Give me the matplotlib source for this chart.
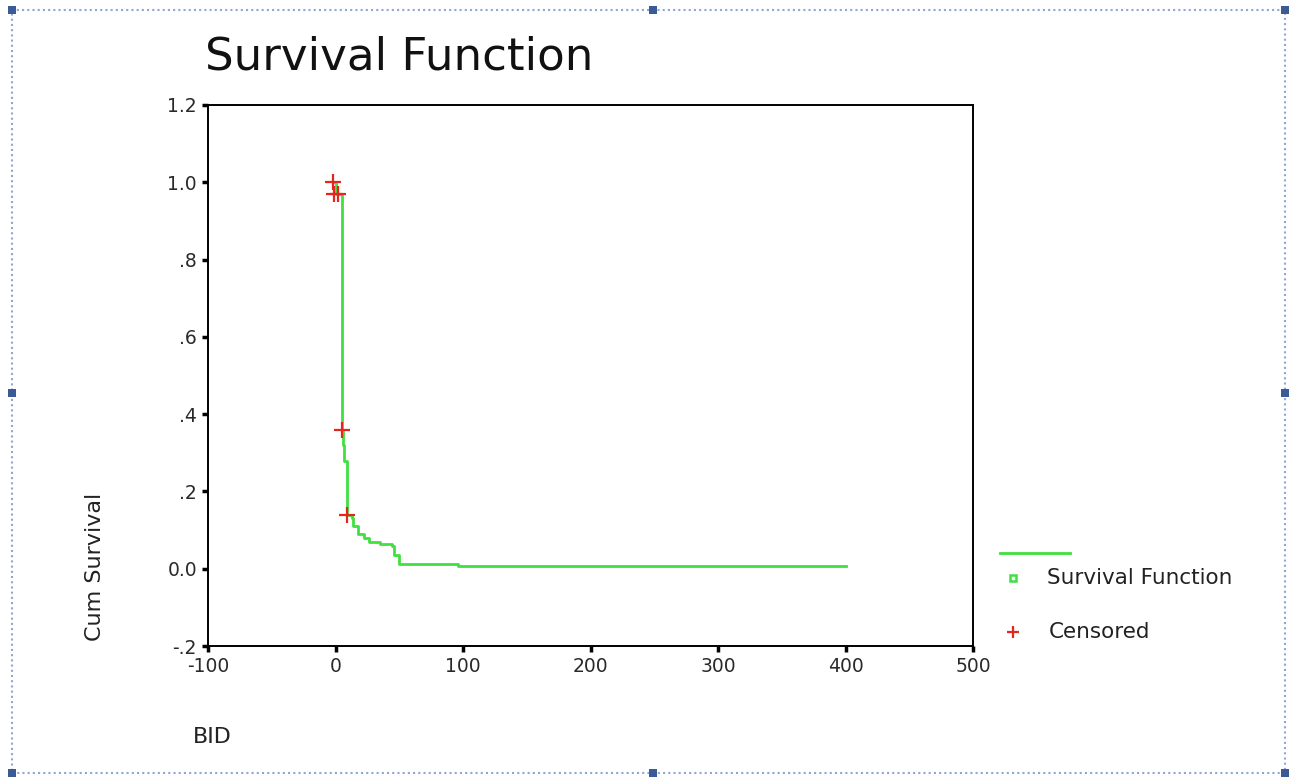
import numpy as np
import matplotlib
matplotlib.use("Agg")
import matplotlib.pyplot as plt
from matplotlib.lines import Line2D
from matplotlib.patches import Rectangle

plt.rcParams['font.family'] = ['DejaVu Sans']

# Kaplan-Meier step curve
times = [-2, 0, 5, 6, 7, 9, 13, 14, 18, 22, 26, 35, 44, 46, 50, 96, 400]
surv = [1.0, 0.97, 0.36, 0.32, 0.28, 0.14, 0.13, 0.11, 0.09, 0.08, 0.07,
        0.065, 0.06, 0.035, 0.012, 0.006, 0.006]

# censored observations
cens_t = [-2, -1, 2, 5, 9]
cens_s = [1.0, 0.97, 0.97, 0.36, 0.14]

xticks = [-100, 0, 100, 200, 300, 400, 500]
xlabels = ['-100', '0', '100', '200', '300', '400', '500']
yticks = [-0.2, 0.0, 0.2, 0.4, 0.6, 0.8, 1.0, 1.2]
ylabels = ['-.2', '0.0', '.2', '.4', '.6', '.8', '1.0', '1.2']

green = '#3fe03f'
red = '#e3261e'

W, H = 1293, 781
fig = plt.figure(figsize=(W / 100, H / 100), dpi=100)
ax = fig.add_axes([208 / W, 1 - 646 / H, (973 - 208) / W, (646 - 105) / H])

ax.step(times, surv, where='post', color=green, lw=2, zorder=2)
ax.plot(cens_t, cens_s, ls='none', marker='+', ms=11, mew=1.6, color=red, zorder=3)

ax.set_xlim(-100, 500)
ax.set_ylim(-0.2, 1.2)
ax.set_xticks(xticks)
ax.set_xticklabels(xlabels)
ax.set_yticks(yticks)
ax.set_yticklabels(ylabels)
ax.tick_params(direction='out', length=4, width=2.5, labelsize=13.5, pad=4,
               labelcolor='#2a2a2a')
for s in ax.spines.values():
    s.set_linewidth(1.4)

fig.text(205 / W, 1 - 57 / H, 'Survival Function', fontsize=32.5, va='center',
         ha='left', color='#111111')
fig.text(95 / W, 1 - 567 / H, 'Cum Survival', fontsize=16, rotation=90,
         va='center', ha='center', color='#222222')
fig.text(193 / W, 1 - 737 / H, 'BID', fontsize=16, va='center', ha='left',
         color='#222222')

# legend drawn by hand
fig.add_artist(Line2D([1000 / W, 1070 / W], [1 - 553 / H] * 2, color=green, lw=2))
fig.add_artist(Line2D([1013 / W], [1 - 578 / H], marker='s', ms=5, mfc='white',
                      mec=green, mew=1.8, ls='none'))
fig.text(1047 / W, 1 - 578 / H, 'Survival Function', fontsize=15.5, va='center',
         color='#222222')
fig.add_artist(Line2D([1013 / W], [1 - 632 / H], marker='+', ms=9, mew=1.6,
                      color=red, ls='none'))
fig.text(1049 / W, 1 - 632 / H, 'Censored', fontsize=15.5, va='center',
         color='#222222')

# selection frame around the chart
fig.add_artist(Rectangle((12 / W, 1 - 773 / H), (1285 - 12) / W, (773 - 10) / H,
                         fill=False, ec='#8ea6d6', lw=1.5, ls=(0, (1, 1.5))))
for hx, hy in [(12, 10), (653, 10), (1285, 10), (12, 393), (1285, 393),
               (12, 773), (653, 773), (1285, 773)]:
    fig.add_artist(Rectangle(((hx - 4) / W, 1 - (hy + 4) / H), 8 / W, 8 / H,
                             color='#3c5a96', lw=0))

fig.savefig('out.png', dpi=100)
